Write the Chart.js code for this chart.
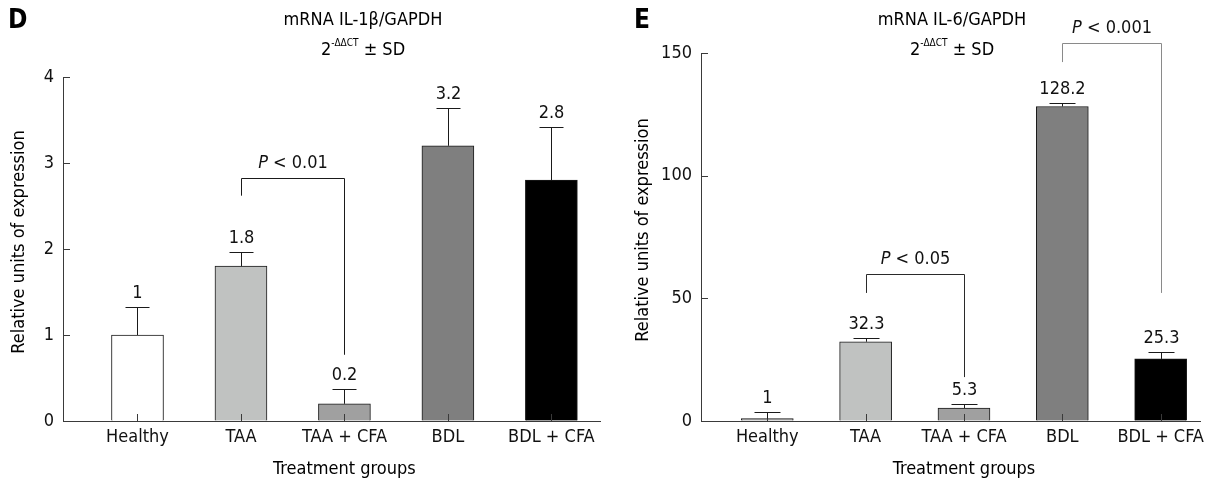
<!DOCTYPE html>
<html>
<head>
<meta charset="utf-8">
<script src="https://cdn.jsdelivr.net/npm/chart.js@4.4.1/dist/chart.umd.min.js"></script>
<style>
  html, body { margin: 0; padding: 0; background: #ffffff; }
  #wrap { position: relative; width: 1211px; height: 483px; overflow: hidden; }
  canvas { position: absolute; top: 0; }
  #il1b { left: 0; }
  #il6 { left: 605px; }
</style>
</head>
<body>
<div id="wrap">
  <canvas id="il1b" width="605" height="483"></canvas>
  <canvas id="il6" width="606" height="483"></canvas>
</div>
<script>
// Treatment groups shared by both panels
const groups = ['Healthy', 'TAA', 'TAA + CFA', 'BDL', 'BDL + CFA'];

// Panel D: IL-1β / GAPDH, 2^-ΔΔCT mean and SD
const il1bMean = [1, 1.8, 0.2, 3.2, 2.8];
const il1bSd = [0.32, 0.16, 0.17, 0.44, 0.62];
const il1bTicks = [0, 1, 2, 3, 4];

// Panel E: IL-6 / GAPDH, 2^-ΔΔCT mean and SD
const il6Mean = [1, 32.3, 5.3, 128.2, 25.3];
const il6Sd = [2.5, 1.6, 1.6, 1.6, 2.9];
const il6Ticks = [0, 50, 100, 150];

// Significance brackets: group pair, bracket heights in axis units, p threshold
const il1bSigPairs = [[1, 2]];
const il1bSigLevels = [[2.83, 2.62, 0.77]];
const il1bSigText = ['0.01'];

const il6SigPairs = [[1, 2], [3, 4]];
const il6SigLevels = [[60, 52.2, 17.9], [154.1, 146.3, 52.2]];
const il6SigText = ['0.05', '0.001'];

const FONT = "'DejaVu Sans Condensed', 'DejaVu Sans', sans-serif";
const AXIS = '#3a3a3a';
Chart.defaults.font.family = FONT;
Chart.defaults.color = '#111111';

function decorPlugin(p) {
  return {
    id: 'decor',
    afterDatasetsDraw(chart) {
      const { ctx, chartArea } = chart;
      const x = chart.scales.x, y = chart.scales.y;
      const line = (x1, y1, x2, y2, col) => {
        ctx.strokeStyle = col || AXIS;
        ctx.lineWidth = 1;
        ctx.beginPath(); ctx.moveTo(x1, y1); ctx.lineTo(x2, y2); ctx.stroke();
      };
      const snap = v => Math.round(v) + 0.5;
      ctx.save();

      // inward tick marks
      y.ticks.forEach(t => {
        const py = snap(y.getPixelForValue(t.value));
        line(chartArea.left, py, chartArea.left + 7, py);
      });
      x.ticks.forEach(t => {
        const px = snap(x.getPixelForValue(t.value));
        line(px, chartArea.bottom, px, chartArea.bottom - 7);
      });

      // SD whiskers and value labels
      p.mean.forEach((m, i) => {
        const px = snap(x.getPixelForValue(i));
        const y0 = y.getPixelForValue(m);
        const y1 = snap(y.getPixelForValue(m + p.sd[i]));
        line(px, y0, px, y1, '#1a1a1a');
        line(px - p.cap / 2, y1, px + p.cap / 2, y1, '#1a1a1a');
        ctx.fillStyle = '#111';
        ctx.font = '18px ' + FONT;
        ctx.textAlign = 'center';
        ctx.textBaseline = 'middle';
        ctx.fillText(String(m), px, y1 - 14);
      });

      // significance brackets
      p.sigPairs.forEach((pair, k) => {
        const [a, b] = pair;
        const [top, la, rb] = p.sigLevels[k];
        const xa = snap(x.getPixelForValue(a)), xb = snap(x.getPixelForValue(b));
        const yt = snap(y.getPixelForValue(top));
        const col = p.sigColors[k];
        ctx.strokeStyle = col; ctx.lineWidth = 1;
        ctx.beginPath();
        ctx.moveTo(xa, y.getPixelForValue(la));
        ctx.lineTo(xa, yt); ctx.lineTo(xb, yt);
        ctx.lineTo(xb, y.getPixelForValue(rb));
        ctx.stroke();
        // "P < value" with italic P
        const ital = 'italic 18px ' + FONT, reg = '18px ' + FONT;
        const rest = ' < ' + p.sigText[k];
        ctx.font = ital; const wP = ctx.measureText('P').width;
        ctx.font = reg; const wR = ctx.measureText(rest).width;
        const sx = (xa + xb) / 2 - (wP + wR) / 2;
        ctx.textAlign = 'left'; ctx.textBaseline = 'middle'; ctx.fillStyle = '#111';
        ctx.font = ital; ctx.fillText('P', sx, yt - 15);
        ctx.font = reg; ctx.fillText(rest, sx + wP, yt - 15);
      });

      // panel letter
      ctx.font = 'bold 26px ' + FONT;
      ctx.textAlign = 'left'; ctx.textBaseline = 'top';
      ctx.fillStyle = '#000';
      ctx.fillText(p.letter, p.letterX, 8);

      // two-line heading
      ctx.font = '18px ' + FONT;
      ctx.textAlign = 'center'; ctx.textBaseline = 'middle';
      ctx.fillText(p.heading, p.headX, 20);
      const parts = [['2', '18px ' + FONT, 0], ['-\u0394\u0394CT', '10px ' + FONT, -7], [' \u00B1 SD', '18px ' + FONT, 0]];
      let total = 0;
      parts.forEach(pt => { ctx.font = pt[1]; pt.push(ctx.measureText(pt[0]).width); total += pt[3]; });
      let cx = p.headX - total / 2;
      ctx.textAlign = 'left';
      parts.forEach(pt => { ctx.font = pt[1]; ctx.fillText(pt[0], cx, 50 + pt[2]); cx += pt[3]; });

      // axis titles
      ctx.font = '18px ' + FONT;
      ctx.textAlign = 'center'; ctx.textBaseline = 'middle';
      ctx.fillText('Treatment groups', x.getPixelForValue(2), 469);
      ctx.save();
      ctx.translate(p.yTitleX, p.yTitleY);
      ctx.rotate(-Math.PI / 2);
      ctx.fillText('Relative units of expression', 0, 0);
      ctx.restore();

      ctx.restore();
    }
  };
}

function makePanel(id, p) {
  return new Chart(document.getElementById(id), {
    type: 'bar',
    data: {
      datasets: [{
        data: p.mean.map((v, i) => ({ x: i, y: v })),
        backgroundColor: p.colors,
        borderColor: '#1a1a1a',
        borderWidth: 1,
        barThickness: 52
      }]
    },
    options: {
      responsive: false,
      animation: false,
      devicePixelRatio: 1,
      layout: { padding: { left: 0, right: p.padRight, top: p.padTop, bottom: 0 } },
      plugins: { legend: { display: false }, tooltip: { enabled: false } },
      scales: {
        x: {
          type: 'linear',
          offset: false,
          min: p.xMin, max: p.xMax,
          afterBuildTicks: s => { s.ticks = groups.map((g, i) => ({ value: i })); },
          afterFit: s => { s.height = 62; },
          grid: { display: true, offset: false, drawOnChartArea: false, drawTicks: false },
          border: { display: true, color: AXIS, width: 1 },
          ticks: {
            autoSkip: false, maxRotation: 0, padding: 6,
            font: { size: 18 }, color: '#111',
            callback: v => groups[v]
          }
        },
        y: {
          min: 0, max: p.ticks[p.ticks.length - 1],
          afterBuildTicks: s => { s.ticks = p.ticks.map(v => ({ value: v })); },
          afterFit: s => { s.width = p.yWidth; },
          grid: { display: true, drawOnChartArea: false, drawTicks: false },
          border: { display: true, color: AXIS, width: 1 },
          ticks: { padding: 9, font: { size: 18 }, color: '#111' }
        }
      }
    },
    plugins: [decorPlugin(p)]
  });
}

makePanel('il1b', {
  mean: il1bMean, sd: il1bSd, ticks: il1bTicks,
  colors: ['#ffffff', '#c0c2c1', '#a0a0a0', '#7f7f7f', '#000000'],
  sigPairs: il1bSigPairs, sigLevels: il1bSigLevels, sigText: il1bSigText,
  sigColors: ['#1a1a1a'],
  xMin: -0.72, xMax: 4.47, yWidth: 63, padTop: 77, padRight: 5, cap: 24,
  letter: 'D', letterX: 8, heading: 'mRNA IL-1\u03B2/GAPDH', headX: 363,
  yTitleX: 19, yTitleY: 242
});

makePanel('il6', {
  mean: il6Mean, sd: il6Sd, ticks: il6Ticks,
  colors: ['#a5a5a5', '#c0c2c1', '#a0a0a0', '#7f7f7f', '#000000'],
  sigPairs: il6SigPairs, sigLevels: il6SigLevels, sigText: il6SigText,
  sigColors: ['#2a2a2a', '#8a8a8a'],
  xMin: -0.674, xMax: 4.40, yWidth: 96, padTop: 53, padRight: 11, cap: 26,
  letter: 'E', letterX: 29, heading: 'mRNA IL-6/GAPDH', headX: 347,
  yTitleX: 38, yTitleY: 230
});
</script>
</body>
</html>
